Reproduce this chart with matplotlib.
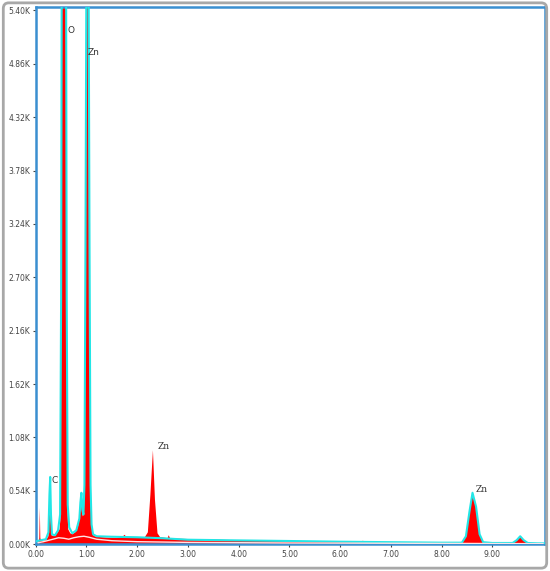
from matplotlib import pyplot as plt
from matplotlib.patches import FancyBboxPatch
from matplotlib.ticker import FuncFormatter


# Espectro EDS (energia en keV, cuentas) leido a ojo de la figura
red_e = [0.00, 0.05, 0.07, 0.08, 0.09, 0.12, 0.20, 0.25, 0.27, 0.28, 0.29, 0.31,
         0.36, 0.42, 0.47, 0.49, 0.50, 0.52, 0.555, 0.59, 0.61, 0.62, 0.64,
         0.68, 0.72, 0.78, 0.83, 0.86, 0.88, 0.90, 0.91, 0.93, 0.95, 0.96,
         0.98, 1.02, 1.06, 1.08, 1.09, 1.11, 1.14, 1.20, 1.40, 1.60, 1.70,
         1.75, 1.80, 2.00, 2.15, 2.21, 2.26, 2.31, 2.35, 2.40, 2.45, 2.60,
         2.62, 2.65, 3.00, 3.50, 4.00, 4.50, 5.00, 5.50, 6.00, 6.40, 6.45,
         6.50, 7.00, 7.50, 8.00, 8.40, 8.48, 8.55, 8.61, 8.68, 8.75, 8.82,
         9.00, 9.40, 9.48, 9.55, 9.62, 9.70, 9.90, 10.05]
red_c = [0, 20, 60, 370, 60, 30, 40, 80, 420, 520, 300, 90,
         80, 110, 150, 280, 2300, 7500, 9500, 7500, 2300, 400, 150,
         110, 100, 120, 170, 250, 380, 460, 320, 280, 320, 550,
         2800, 9000, 2800, 550, 300, 150, 85, 75, 66, 62, 68,
         95, 64, 62, 70, 120, 500, 950, 450, 110, 72, 60,
         90, 58, 52, 46, 40, 35, 31, 26, 23, 20, 35,
         18, 15, 13, 12, 12, 75, 320, 500, 370, 95, 15,
         10, 10, 38, 75, 38, 8, 5, 5]

cyan_e = [0.02, 0.10, 0.20, 0.25, 0.27, 0.285, 0.30, 0.32, 0.38, 0.44, 0.48,
          0.50, 0.52, 0.555, 0.59, 0.61, 0.63, 0.66, 0.72, 0.80, 0.86, 0.88,
          0.90, 0.92, 0.94, 0.96, 0.98, 1.02, 1.06, 1.08, 1.10, 1.13, 1.20,
          1.50, 2.00, 2.50, 3.00, 4.00, 5.00, 6.00, 7.00, 8.00, 8.40, 8.48,
          8.55, 8.61, 8.68, 8.75, 8.82, 9.00, 9.40, 9.48, 9.55, 9.62, 9.70,
          9.90, 10.05]
cyan_c = [30, 40, 50, 120, 500, 680, 300, 100, 90, 140, 300,
          2500, 8000, 9500, 8000, 2500, 400, 170, 110, 140, 260, 420,
          520, 350, 300, 600, 3000, 9000, 3000, 600, 200, 100, 80,
          75, 70, 60, 45, 38, 32, 25, 20, 15, 15, 80,
          330, 520, 380, 100, 20, 12, 12, 40, 80, 40, 12,
          8, 8]

# Fondo ajustado (linea clara)
bg_e = [0.05, 0.15, 0.30, 0.45, 0.55, 0.65, 0.75, 0.85, 0.95, 1.05, 1.20,
        1.50, 2.00, 3.00, 5.00, 8.00, 10.0]
bg_c = [15, 25, 45, 65, 60, 50, 65, 75, 80, 70, 50,
        35, 25, 18, 12, 8, 5]

# Etiquetas de los elementos
labels = ['O', 'Zn', 'Zn', 'Zn', 'C']
label_x = [0.62, 1.03, 2.40, 8.68, 0.32]
label_y = [5150, 4930, 940, 510, 600]

y_ticks = [0, 540, 1080, 1620, 2160, 2700, 3240, 3780, 4320, 4860, 5400]
x_ticks = [0, 1, 2, 3, 4, 5, 6, 7, 8, 9]


fig = plt.figure(figsize=(5.5, 5.71), dpi=100)
ax = fig.add_axes([0.065, 0.047, 0.926, 0.94])

ax.fill_between(red_e, red_c, color='red', lw=0, zorder=2)
ax.plot(cyan_e, cyan_c, color='#22e6e6', lw=1.5, zorder=3)
ax.plot(bg_e, bg_c, color='#ffe4e4', lw=1.0, zorder=4)

for txt, lx, ly in zip(labels, label_x, label_y):
    fam = 'DejaVu Serif' if txt == 'Zn' and ly < 2000 else 'DejaVu Sans'
    ax.text(lx, ly, txt, fontsize=6.5, color='#333333', family=fam,
            ha='left', va='bottom', zorder=5)

ax.set_xlim(0, 10.04)
ax.set_ylim(0, 5430)
ax.set_xticks(x_ticks)
ax.set_yticks(y_ticks)
ax.xaxis.set_major_formatter(FuncFormatter(lambda v, p: '%.2f' % v))
ax.yaxis.set_major_formatter(FuncFormatter(lambda v, p: '%.2fK' % (v / 1000)))
ax.tick_params(labelsize=5.5, colors='#444444', length=2, width=0.8, pad=2)

for s in ax.spines.values():
    s.set_color('#3a8fd0')
    s.set_linewidth(1.8)

# Marco gris redondeado alrededor de toda la figura
frame = FancyBboxPatch((0.006, 0.005), 0.988, 0.99, boxstyle='round,pad=0,rounding_size=0.01',
                       transform=fig.transFigure, fill=False, edgecolor='#a8a8a8',
                       lw=2.0, zorder=0)
fig.patches.append(frame)

fig.savefig('out.png', dpi=100)
